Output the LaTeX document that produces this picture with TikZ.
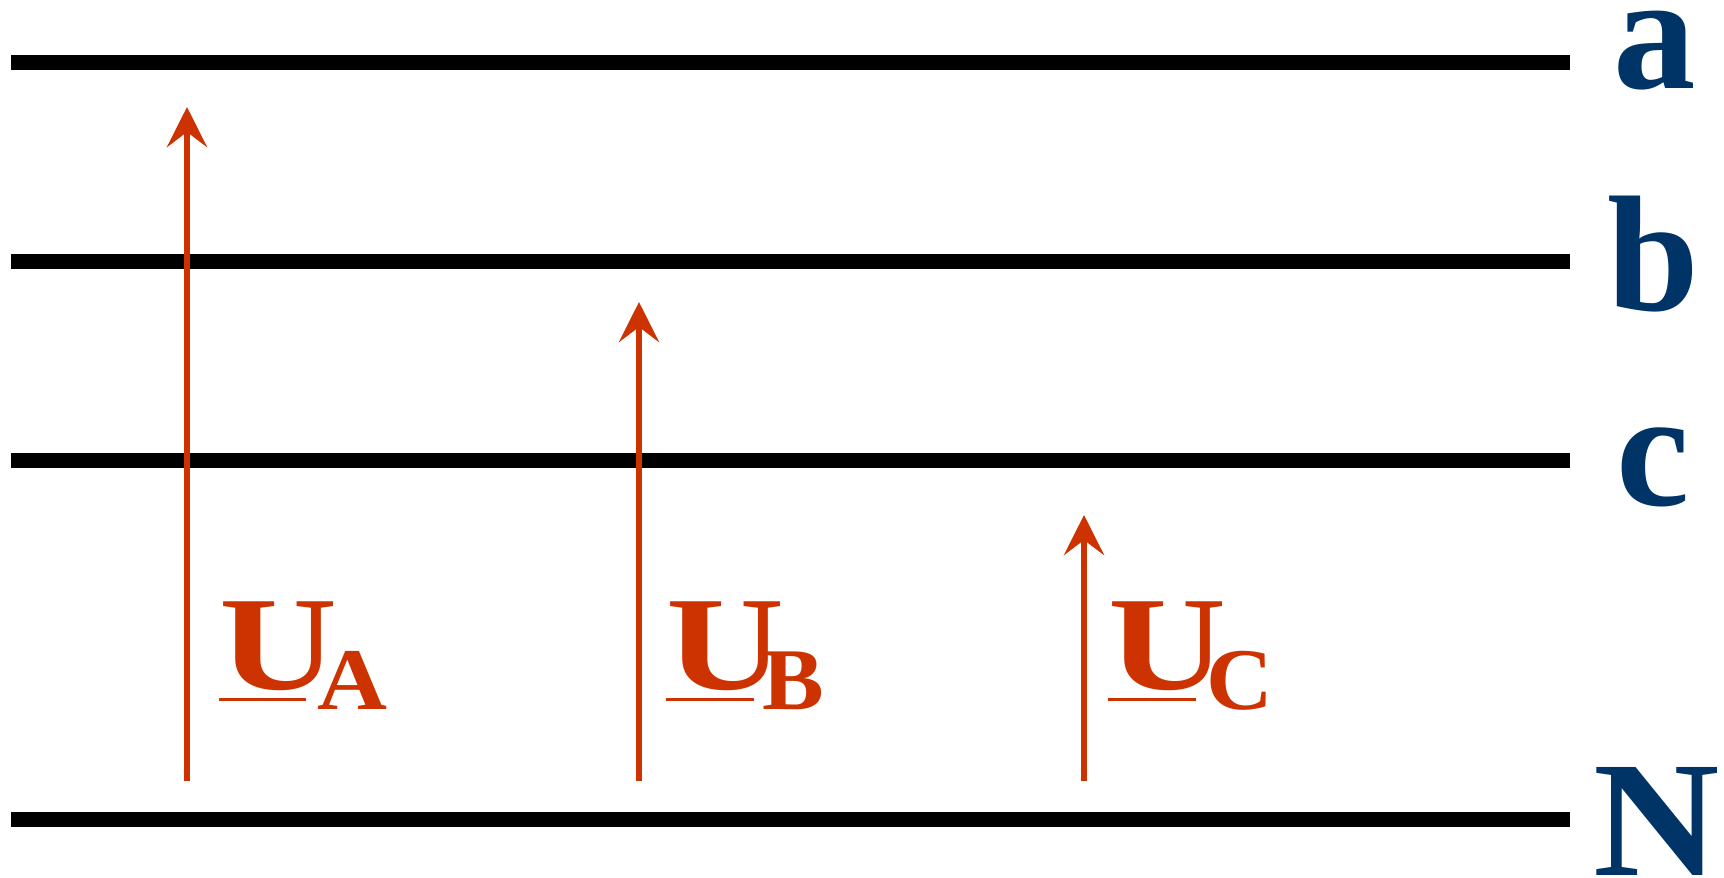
\documentclass[tikz,border=0pt]{standalone}
\usepackage{fontspec}
\setmainfont{Liberation Serif}
\usetikzlibrary{arrows.meta}
\definecolor{phred}{RGB}{204,51,0}
\definecolor{phblue}{RGB}{0,51,102}
\tikzset{
  bus/.style={line width=15pt, black},
  vec/.style={line width=6.5pt, phred, -{Stealth[length=40pt,width=40pt,inset=15pt]}},
  phase/.style={inner sep=0pt, anchor=base, text=phblue, font=\fontsize{165}{165}\bfseries\selectfont},
  bigU/.style={inner sep=0pt, anchor=base west, text=phred, font=\fontsize{134}{134}\bfseries\selectfont},
  subs/.style={inner sep=0pt, anchor=base west, text=phred, font=\fontsize{88}{88}\bfseries\selectfont},
  uline/.style={line width=3pt, phred}
}
\begin{document}
\begin{tikzpicture}[x=1pt,y=-1pt]
\useasboundingbox (0,0) rectangle (1724,878);
% bus bars
\coordinate (aL) at (11,62.7);  \coordinate (aR) at (1570,62.7);
\coordinate (bL) at (11,261.7); \coordinate (bR) at (1570,261.7);
\coordinate (cL) at (11,460.7); \coordinate (cR) at (1570,460.7);
\coordinate (nL) at (11,819);   \coordinate (nR) at (1570,819);
\draw[bus] (aL) -- (aR);
\draw[bus] (bL) -- (bR);
\draw[bus] (cL) -- (cR);
\draw[bus] (nL) -- (nR);
% phase labels
\node[phase] (la) at (1655,88) {a};
\node[phase] (lb) at (1653,310) {b};
\node[phase] (lc) at (1653,505) {c};
\node[phase] (ln) at (1657,875) {\scalebox{1.06}[1]{N}};
% phasor arrows
\coordinate (uaS) at (187,781); \coordinate (uaE) at (187,107);
\coordinate (ubS) at (639,781); \coordinate (ubE) at (639,302);
\coordinate (ucS) at (1084,781); \coordinate (ucE) at (1084,515);
\draw[vec] (uaS) -- (uaE);
\draw[vec] (ubS) -- (ubE);
\draw[vec] (ucS) -- (ucE);
% labels
\node[bigU] (UA) at (219,689) {\scalebox{1.22}[1]{U}};
\node[subs] (sA) at (317,709) {\scalebox{1.1}[1]{A}};
\draw[uline] (219,699) -- (306,699);
\node[bigU] (UB) at (666,689) {\scalebox{1.22}[1]{U}};
\node[subs] (sB) at (762,709) {\scalebox{1.05}[1]{B}};
\draw[uline] (666,699) -- (754,699);
\node[bigU] (UC) at (1108,689) {\scalebox{1.22}[1]{U}};
\node[subs] (sC) at (1206,709) {\scalebox{1.05}[1]{C}};
\draw[uline] (1108,699) -- (1196,699);
\end{tikzpicture}
\end{document}
